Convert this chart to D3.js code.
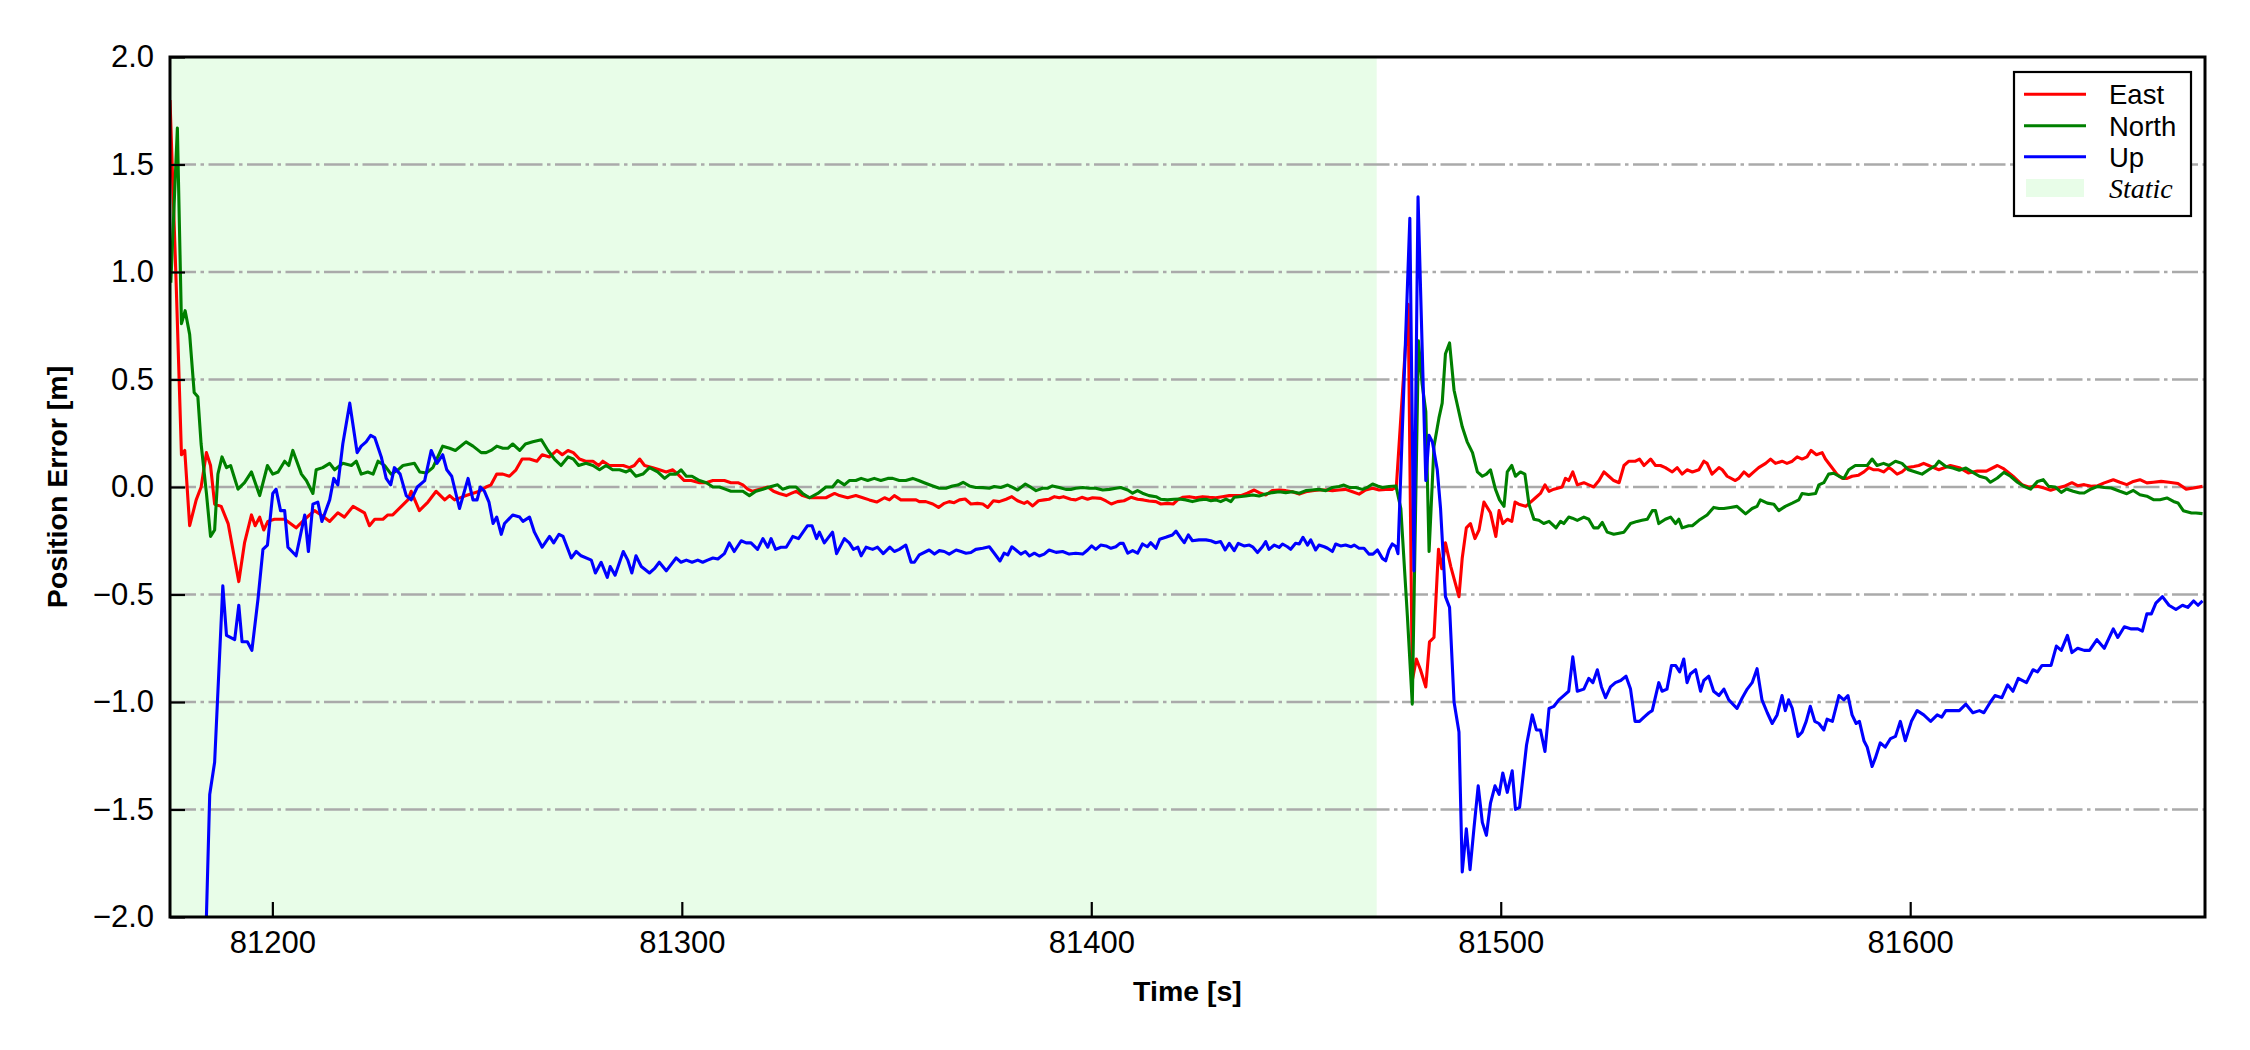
<!DOCTYPE html>
<html><head><meta charset="utf-8">
<script src="https://cdn.jsdelivr.net/npm/d3@7"></script>
<style>
html,body{margin:0;padding:0;background:#fff;}
svg{display:block;}
</style></head>
<body>
<svg id="chart" width="2250" height="1050"></svg>
<script>
// ---------- data ----------
const xTicks = [81200, 81300, 81400, 81500, 81600];
const yTicks = [-2.0, -1.5, -1.0, -0.5, 0.0, 0.5, 1.0, 1.5, 2.0];
const gridLevels = [-1.5, -1.0, -0.5, 0.0, 0.5, 1.0, 1.5];
const timeRange = [81175, 81672];
const staticRange = [81175, 81469.7];
const seriesNames = ["East", "North", "Up"];
const staticLabel = "Static";

const east = [[81175.0,1.80],[81176.5,0.95],[81177.8,0.15],[81178.6,0.17],[81179.8,-0.18],[81181.4,-0.06],[81182.6,0.0],[81183.9,0.16],[81184.9,0.10],[81185.9,-0.08],[81187.5,-0.09],[81189.2,-0.17],[81191.8,-0.44],[81193.2,-0.26],[81194.9,-0.13],[81195.8,-0.18],[81196.9,-0.14],[81197.9,-0.20],[81198.9,-0.16],[81200.5,-0.15],[81203.0,-0.15],[81205.8,-0.19],[81207.9,-0.15],[81210.3,-0.11],[81211.9,-0.13],[81214.0,-0.16],[81216.0,-0.12],[81217.6,-0.14],[81219.7,-0.09],[81222.5,-0.12],[81223.7,-0.18],[81225.0,-0.15],[81227.0,-0.15],[81228.2,-0.13],[81229.4,-0.13],[81231.5,-0.09],[81233.1,-0.06],[81233.9,-0.02],[81235.9,-0.11],
[81238.0,-0.07],[81240.0,-0.02],[81242.1,-0.06],[81243.3,-0.04],[81244.5,-0.06],[81247.3,-0.04],[81250.6,-0.02],[81252.2,0.0],[81253.4,0.01],[81254.8,0.06],[81256.3,0.06],[81257.9,0.05],[81259.5,0.08],[81261.0,0.13],[81262.8,0.13],[81264.6,0.12],[81265.9,0.15],[81267.7,0.14],[81269.5,0.17],[81270.8,0.15],[81272.2,0.17],[81273.5,0.16],[81275.0,0.13],[81276.5,0.12],[81278.3,0.12],[81279.7,0.10],[81280.7,0.12],[81282.3,0.10],[81284.0,0.10],[81285.7,0.10],[81287.2,0.09],[81288.4,0.10],[81289.7,0.13],[81290.9,0.10],[81292.9,0.09],[81294.5,0.08],[81296.2,0.07],[81297.8,0.08],[81299.0,0.06],[81300.6,0.03],[81302.3,0.03],[81304.3,0.02],[81305.9,0.02],[81307.6,0.03],[81309.2,0.03],[81310.4,0.03],[81312.0,0.02],[81313.7,0.02],[81314.9,0.01],[81316.1,-0.01],[81317.3,-0.02],[81319.0,-0.01],[81321.0,0.0],[81322.4,-0.02],[81323.8,-0.03],[81325.5,-0.04],[81326.7,-0.03],[81327.9,-0.02],[81329.5,-0.04],[81331.2,-0.05],[81332.8,-0.05],[81335.2,-0.05],[81337.3,-0.03],[81338.5,-0.04],[81340.5,-0.05],[81342.5,-0.04],[81344.2,-0.05],[81345.8,-0.06],[81347.6,-0.07],[81349.5,-0.05],[81350.7,-0.06],[81351.9,-0.04],[81353.5,-0.06],[81355.2,-0.06],[81357.2,-0.06],
[81358.0,-0.068],[81359.6,-0.068],[81361.3,-0.079],[81362.7,-0.095],[81364.1,-0.076],[81365.3,-0.068],[81366.5,-0.073],[81367.8,-0.060],[81369.2,-0.056],[81370.6,-0.079],[81372.2,-0.076],[81373.5,-0.079],[81374.7,-0.095],[81376.1,-0.064],[81377.5,-0.068],[81379.2,-0.057],[81380.6,-0.045],[81382.0,-0.064],[81383.6,-0.076],[81384.4,-0.068],[81385.7,-0.088],[81387.1,-0.064],[81388.5,-0.060],[81389.7,-0.057],[81391.0,-0.045],[81392.2,-0.050],[81393.2,-0.045],[81395.0,-0.057],[81396.2,-0.060],[81397.7,-0.048],[81399.1,-0.057],[81400.3,-0.050],[81402.3,-0.053],[81403.6,-0.065],[81404.9,-0.079],[81406.4,-0.068],[81408.0,-0.064],[81409.7,-0.048],[81411.3,-0.057],[81412.7,-0.060],[81414.1,-0.065],[81415.8,-0.068],[81417.0,-0.079],[81418.6,-0.076],[81420.0,-0.079],[81421.1,-0.060],[81422.3,-0.048],[81423.9,-0.045],[81425.5,-0.050],[81427.2,-0.045],[81428.8,-0.048],[81430.4,-0.050],[81432.0,-0.045],[81433.7,-0.040],[81435.3,-0.040],[81436.5,-0.040],[81438.1,-0.029],[81439.8,-0.014],[81441.0,-0.026],[81442.6,-0.037],[81444.2,-0.017],[81445.9,-0.014],[81447.5,-0.017],[81449.1,-0.022],[81450.8,-0.033],[81452.4,-0.022],[81454.0,-0.017],[81455.6,-0.014],[81457.3,-0.014],[81458.9,-0.017],[81460.5,-0.014],[81462.1,-0.011],[81463.8,-0.022],[81465.4,-0.033],[81467.0,-0.014],[81468.7,-0.006],[81470.3,-0.014],[81471.9,-0.011],[81473.5,-0.011],[81474.5,0.0],
[81477.4,0.85],[81478.4,-0.90],[81479.4,-0.80],[81480.4,-0.85],[81481.7,-0.93],[81482.6,-0.72],[81483.7,-0.70],[81484.8,-0.29],[81485.6,-0.38],[81486.5,-0.26],[81487.8,-0.37],[81489.8,-0.51],[81490.6,-0.33],[81491.6,-0.19],[81492.6,-0.17],[81493.7,-0.24],[81494.7,-0.20],[81495.9,-0.07],[81497.5,-0.12],[81498.8,-0.23],[81499.6,-0.11],[81500.5,-0.17],[81501.6,-0.15],[81502.7,-0.16],[81503.5,-0.07],
[81504.4,-0.08],[81506.1,-0.09],[81507.3,-0.07],[81508.5,-0.05],[81509.7,-0.03],[81510.8,0.01],[81511.8,-0.02],[81513.0,-0.01],[81515.0,0.0],[81515.8,0.04],[81516.6,0.03],[81517.6,0.07],[81518.7,0.01],[81520.3,0.02],[81521.5,0.01],[81522.7,0.0],[81524.0,0.03],[81525.2,0.07],[81526.4,0.05],[81527.6,0.03],[81528.9,0.02],[81530.1,0.10],[81531.3,0.12],[81532.9,0.12],[81533.9,0.13],[81535.0,0.10],[81536.6,0.13],[81537.8,0.10],[81539.0,0.10],[81540.2,0.09],[81541.9,0.07],[81543.1,0.09],[81544.3,0.06],[81545.5,0.08],[81546.8,0.07],[81548.4,0.08],[81549.6,0.12],[81550.4,0.11],[81551.6,0.06],[81553.3,0.09],[81554.1,0.08],[81555.3,0.05],[81557.3,0.03],[81558.1,0.04],[81559.4,0.07],[81560.6,0.05],[81561.8,0.07],[81563.0,0.09],[81564.7,0.11],[81565.9,0.13],[81567.1,0.11],[81568.7,0.12],[81569.9,0.11],[81571.2,0.12],[81572.4,0.14],[81573.6,0.13],[81574.8,0.14],[81575.8,0.17],[81577.1,0.15],[81578.5,0.16],[81579.3,0.13],[81580.5,0.10],[81582.1,0.06],[81583.4,0.04],[81584.6,0.04],[81585.8,0.05],[81587.4,0.055],[81588.7,0.07],[81589.9,0.09],[81591.1,0.08],[81592.3,0.08],[81593.5,0.07],[81594.8,0.09],[81595.6,0.08],[81596.8,0.06],[81598.0,0.07],[81599.2,0.09],[81600.9,0.095],[81602.1,0.10],[81603.3,0.11],[81604.5,0.10],[81605.7,0.09],[81607.0,0.08],
[81609.8,0.10],[81612.0,0.09],[81614.2,0.065],[81616.4,0.074],[81618.6,0.074],[81621.3,0.10],[81622.9,0.084],[81625.1,0.05],[81627.3,0.011],[81628.9,0.0],[81631.1,0.003],[81632.7,-0.005],[81634.3,-0.015],[81636.0,-0.005],[81637.6,0.003],[81639.5,0.02],[81640.9,0.006],[81642.5,0.011],[81644.2,0.003],[81645.8,0.006],[81647.4,0.019],[81649.6,0.034],[81651.2,0.022],[81652.9,0.011],[81654.5,0.026],[81656.1,0.034],[81657.8,0.019],[81659.4,0.022],[81661.3,0.026],[81663.2,0.022],[81665.4,0.016],[81667.4,-0.01],[81669.2,-0.005],[81671.4,0.003]];

const north = [[81175.2,0.95],[81176.8,1.67],[81177.8,0.76],[81178.7,0.82],[81179.8,0.71],[81180.9,0.44],[81181.8,0.42],[81182.6,0.20],[81183.9,-0.03],[81184.9,-0.23],[81185.9,-0.20],[81186.7,0.06],[81187.7,0.14],[81188.8,0.09],[81189.8,0.10],[81191.6,-0.01],[81193.2,0.02],[81194.9,0.07],[81196.9,-0.04],[81198.8,0.10],[81200.1,0.06],[81201.4,0.07],[81203.0,0.12],[81204.0,0.10],[81205.0,0.17],[81207.1,0.06],[81208.3,0.03],[81209.9,-0.03],[81210.7,0.08],[81212.3,0.09],[81214.0,0.11],[81215.2,0.08],[81217.2,0.11],[81219.3,0.10],[81220.5,0.12],[81221.7,0.06],[81223.3,0.07],[81224.6,0.06],[81225.8,0.12],[81227.4,0.10],[81229.0,0.06],[81230.7,0.08],[81231.9,0.10],[81234.7,0.11],[81236.0,0.07],
[81237.6,0.065],[81239.2,0.09],[81241.6,0.19],[81243.3,0.18],[81244.7,0.17],[81247.3,0.21],[81249.0,0.19],[81251.0,0.16],[81252.2,0.16],[81253.4,0.17],[81254.8,0.19],[81256.3,0.18],[81257.5,0.18],[81258.7,0.20],[81260.4,0.17],[81261.8,0.20],[81263.6,0.21],[81265.7,0.22],[81267.3,0.17],[81268.9,0.13],[81270.5,0.10],[81272.2,0.14],[81273.5,0.13],[81274.8,0.10],[81276.6,0.11],[81278.3,0.10],[81279.9,0.08],[81281.5,0.10],[81283.1,0.08],[81284.8,0.08],[81286.4,0.07],[81287.4,0.08],[81288.8,0.05],[81290.5,0.06],[81292.1,0.09],[81294.1,0.07],[81295.8,0.04],[81297.1,0.06],[81298.6,0.06],[81299.8,0.08],[81301.1,0.05],[81302.5,0.05],[81304.3,0.03],[81306.0,0.02],[81307.6,0.0],[81309.2,0.0],[81310.6,-0.01],[81312.0,-0.02],[81313.3,-0.02],[81314.9,-0.02],[81316.5,-0.04],[81318.1,-0.02],[81319.8,-0.01],[81321.4,0.0],[81323.4,0.01],[81324.6,-0.01],[81326.3,0.0],[81327.9,0.0],[81329.5,-0.03],[81331.2,-0.05],[81333.2,-0.03],[81335.2,0.0],[81336.8,0.0],[81338.1,0.03],[81339.7,0.01],[81340.9,0.03],[81342.5,0.03],[81343.8,0.04],[81345.4,0.03],[81347.0,0.04],[81348.6,0.03],[81350.3,0.04],[81351.5,0.04],[81353.1,0.03],[81354.7,0.03],[81356.4,0.04],
[81358.0,0.029],[81359.2,0.020],[81361.3,0.005],[81362.9,-0.006],[81364.5,-0.006],[81366.1,0.005],[81367.4,0.009],[81368.7,0.022],[81370.2,0.005],[81371.8,-0.002],[81373.5,-0.003],[81375.1,-0.006],[81376.3,0.002],[81377.9,-0.002],[81379.6,0.009],[81380.8,-0.002],[81382.0,-0.014],[81383.9,0.014],[81385.3,-0.002],[81386.5,-0.017],[81388.1,-0.006],[81389.3,-0.006],[81390.5,0.005],[81392.2,-0.002],[81393.8,-0.011],[81395.0,-0.011],[81396.2,-0.006],[81397.9,-0.002],[81399.5,-0.006],[81401.1,-0.006],[81402.8,-0.014],[81404.4,-0.011],[81406.0,-0.006],[81407.2,-0.002],[81408.9,-0.014],[81410.1,-0.029],[81411.3,-0.017],[81412.5,-0.029],[81414.1,-0.040],[81415.8,-0.045],[81417.0,-0.057],[81418.6,-0.060],[81420.2,-0.057],[81421.5,-0.056],[81423.1,-0.060],[81424.7,-0.068],[81426.3,-0.060],[81428.0,-0.057],[81429.2,-0.064],[81430.4,-0.060],[81431.6,-0.068],[81432.9,-0.056],[81434.1,-0.068],[81434.9,-0.048],[81436.1,-0.045],[81437.7,-0.042],[81439.4,-0.037],[81441.0,-0.042],[81442.6,-0.033],[81444.2,-0.026],[81445.9,-0.022],[81447.5,-0.026],[81449.1,-0.022],[81450.8,-0.029],[81452.4,-0.017],[81454.0,-0.014],[81455.6,-0.011],[81457.3,-0.017],[81458.9,-0.002],[81460.5,0.002],[81461.7,0.009],[81463.0,-0.002],[81464.6,-0.002],[81466.2,-0.011],[81467.4,-0.002],[81468.7,0.014],[81469.9,0.005],[81471.1,-0.002],[81472.7,0.002],[81474.4,0.005],
[81475.6,-0.10],[81477.2,-0.60],[81478.4,-1.01],[81479.9,0.68],[81480.8,0.48],[81481.7,0.35],[81482.5,-0.30],[81483.7,0.19],[81484.9,0.32],[81485.7,0.39],[81486.5,0.62],[81487.5,0.67],[81488.6,0.45],[81490.6,0.28],[81491.8,0.21],[81493.1,0.16],[81494.3,0.07],[81495.5,0.05],[81496.5,0.06],[81497.5,0.08],[81498.7,-0.01],[81499.7,-0.06],[81500.8,-0.09],[81501.6,0.07],[81502.7,0.10],[81503.6,0.05],[81504.8,0.07],[81505.9,0.06],
[81506.9,-0.08],[81508.1,-0.15],[81509.3,-0.155],[81510.5,-0.17],[81511.8,-0.16],[81513.5,-0.19],[81514.6,-0.16],[81515.4,-0.17],[81516.6,-0.14],[81517.5,-0.145],[81518.7,-0.155],[81520.3,-0.14],[81521.5,-0.15],[81522.7,-0.19],[81523.8,-0.19],[81524.8,-0.165],[81526.0,-0.21],[81527.6,-0.22],[81528.9,-0.215],[81530.1,-0.21],[81531.7,-0.17],[81533.3,-0.16],[81534.5,-0.155],[81535.8,-0.15],[81537.0,-0.11],[81537.8,-0.11],[81538.6,-0.17],[81540.2,-0.15],[81541.5,-0.14],[81542.7,-0.17],[81543.5,-0.15],[81544.3,-0.19],[81545.9,-0.18],[81546.8,-0.18],[81548.4,-0.155],[81550.4,-0.13],[81552.0,-0.095],[81553.3,-0.10],[81554.5,-0.10],[81556.1,-0.095],[81557.7,-0.09],[81559.8,-0.125],[81561.4,-0.10],[81562.6,-0.09],[81563.4,-0.06],[81565.1,-0.075],[81566.7,-0.08],[81567.9,-0.11],[81569.5,-0.09],[81571.2,-0.075],[81572.8,-0.06],[81573.6,-0.03],[81575.2,-0.035],[81576.9,-0.03],[81577.7,0.01],[81578.9,0.02],[81580.1,0.06],[81581.3,0.064],[81582.6,0.05],[81583.8,0.04],[81585.0,0.08],[81586.6,0.10],[81587.8,0.10],[81589.5,0.10],[81590.7,0.13],[81591.9,0.10],[81593.5,0.11],[81594.8,0.10],[81596.4,0.12],[81598.0,0.11],[81599.6,0.08],[81601.3,0.07],[81602.9,0.06],[81604.5,0.08],[81606.2,0.10],[81607.0,0.12],
[81608.7,0.095],[81610.4,0.088],[81612.0,0.078],[81613.6,0.088],[81615.3,0.068],[81616.9,0.05],[81618.5,0.042],[81619.6,0.022],[81621.3,0.042],[81622.9,0.068],[81624.5,0.05],[81626.2,0.022],[81627.8,0.003],[81629.4,-0.01],[81631.1,0.026],[81632.5,0.034],[81633.8,0.003],[81635.4,0.0],[81636.9,-0.025],[81638.2,-0.009],[81639.8,-0.02],[81641.4,-0.028],[81642.5,-0.028],[81644.2,-0.009],[81645.8,0.003],[81647.4,-0.002],[81649.1,-0.005],[81651.2,-0.02],[81652.9,-0.031],[81654.5,-0.016],[81656.1,-0.036],[81657.8,-0.043],[81659.4,-0.059],[81661.0,-0.059],[81662.7,-0.051],[81664.3,-0.067],[81665.4,-0.074],[81666.7,-0.11],[81668.7,-0.121],[81669.8,-0.121],[81671.4,-0.124]];

const up = [[81175.0,-4.0],[81182.9,-2.7],[81184.7,-1.43],[81185.9,-1.28],[81187.9,-0.46],[81188.8,-0.69],[81190.8,-0.71],[81191.8,-0.55],[81192.6,-0.72],[81193.9,-0.72],[81195.0,-0.76],[81196.5,-0.52],[81197.7,-0.29],[81198.8,-0.27],[81200.1,-0.03],[81200.9,-0.01],[81202.0,-0.11],[81203.0,-0.11],[81203.8,-0.28],[81205.8,-0.32],[81207.9,-0.13],[81208.8,-0.30],[81209.9,-0.08],[81211.1,-0.07],[81212.1,-0.16],[81214.0,-0.06],[81215.0,0.04],[81216.0,0.01],[81217.2,0.20],[81218.9,0.39],[81220.7,0.16],[81221.7,0.19],[81222.9,0.21],[81224.0,0.24],[81225.0,0.23],[81226.6,0.14],[81227.8,0.04],[81228.9,0.01],[81229.8,0.09],[81231.2,0.06],[81232.7,-0.04],[81233.9,-0.06],[81235.4,0.0],
[81237.2,0.03],[81238.8,0.17],[81240.2,0.11],[81241.6,0.15],[81242.6,0.08],[81243.8,0.05],[81245.7,-0.10],[81247.8,0.04],[81249.0,-0.06],[81250.0,-0.06],[81250.8,0.0],[81251.8,-0.02],[81252.9,-0.07],[81253.9,-0.17],[81254.8,-0.14],[81255.9,-0.22],[81256.7,-0.17],[81258.7,-0.13],[81260.4,-0.14],[81261.2,-0.16],[81262.8,-0.14],[81264.0,-0.21],[81265.9,-0.28],[81267.7,-0.23],[81268.7,-0.26],[81270.0,-0.22],[81271.0,-0.23],[81273.0,-0.33],[81274.2,-0.30],[81275.4,-0.32],[81277.9,-0.34],[81278.9,-0.40],[81280.3,-0.35],[81281.8,-0.42],[81282.5,-0.37],[81283.7,-0.41],[81285.7,-0.30],[81286.8,-0.34],[81287.8,-0.40],[81288.8,-0.32],[81290.1,-0.37],[81292.1,-0.40],[81293.3,-0.38],[81294.5,-0.35],[81296.2,-0.39],[81298.6,-0.33],[81299.8,-0.35],[81301.1,-0.34],[81302.5,-0.35],[81303.9,-0.34],[81305.1,-0.35],[81306.3,-0.34],[81307.6,-0.33],[81308.8,-0.335],[81310.4,-0.31],[81311.6,-0.26],[81312.8,-0.30],[81314.5,-0.25],[81315.7,-0.26],[81316.9,-0.26],[81318.5,-0.29],[81319.8,-0.24],[81321.0,-0.28],[81321.8,-0.24],[81322.9,-0.29],[81324.2,-0.28],[81325.5,-0.28],[81327.1,-0.23],[81328.5,-0.24],[81330.7,-0.18],[81331.8,-0.18],[81332.9,-0.24],[81333.6,-0.21],[81334.8,-0.26],[81336.8,-0.21],[81337.8,-0.31],[81339.7,-0.24],[81340.9,-0.26],[81341.9,-0.29],[81343.0,-0.28],[81343.8,-0.32],[81345.0,-0.28],[81346.6,-0.29],[81347.8,-0.28],[81349.2,-0.31],[81350.8,-0.28],[81351.9,-0.30],[81353.1,-0.29],[81354.7,-0.27],[81356.0,-0.35],[81356.8,-0.35],
[81358.0,-0.316],[81360.4,-0.293],[81361.7,-0.312],[81362.9,-0.296],[81364.1,-0.300],[81365.3,-0.312],[81367.0,-0.293],[81368.2,-0.300],[81369.4,-0.308],[81370.6,-0.305],[81371.8,-0.290],[81373.5,-0.285],[81375.1,-0.278],[81376.3,-0.308],[81377.7,-0.344],[81378.7,-0.308],[81379.6,-0.316],[81380.6,-0.278],[81381.6,-0.293],[81382.8,-0.312],[81383.9,-0.300],[81384.9,-0.321],[81386.1,-0.308],[81387.3,-0.321],[81388.5,-0.312],[81389.7,-0.293],[81391.4,-0.304],[81393.0,-0.300],[81394.6,-0.312],[81396.2,-0.308],[81397.9,-0.312],[81399.1,-0.293],[81400.1,-0.274],[81401.1,-0.290],[81402.3,-0.270],[81403.6,-0.274],[81404.8,-0.285],[81406.0,-0.278],[81407.0,-0.262],[81407.8,-0.262],[81408.9,-0.308],[81410.1,-0.296],[81411.3,-0.308],[81412.5,-0.265],[81413.7,-0.278],[81414.5,-0.259],[81415.8,-0.285],[81416.7,-0.243],[81418.2,-0.234],[81419.8,-0.223],[81420.7,-0.205],[81421.9,-0.239],[81422.7,-0.259],[81423.7,-0.223],[81424.7,-0.250],[81426.3,-0.246],[81428.0,-0.246],[81429.2,-0.250],[81430.4,-0.259],[81431.6,-0.254],[81432.7,-0.293],[81433.7,-0.262],[81434.9,-0.296],[81435.9,-0.262],[81437.3,-0.274],[81438.6,-0.270],[81439.4,-0.278],[81440.6,-0.305],[81441.8,-0.278],[81442.6,-0.254],[81443.4,-0.290],[81444.7,-0.270],[81445.9,-0.281],[81446.7,-0.265],[81447.9,-0.278],[81448.7,-0.290],[81449.9,-0.262],[81450.8,-0.265],[81451.7,-0.234],[81452.8,-0.270],[81453.6,-0.246],[81454.8,-0.293],[81455.6,-0.270],[81456.9,-0.278],[81457.7,-0.285],[81458.9,-0.300],[81459.7,-0.265],[81460.9,-0.274],[81462.1,-0.270],[81463.4,-0.278],[81464.2,-0.270],[81465.4,-0.285],[81466.6,-0.285],[81467.8,-0.312],[81468.8,-0.312],[81469.9,-0.293],[81471.1,-0.332],[81471.9,-0.343],[81472.7,-0.293],[81473.5,-0.265],[81474.4,-0.277],[81474.9,-0.31],
[81477.8,1.25],[81478.8,-0.39],[81479.8,1.35],[81481.7,0.03],[81482.5,0.24],[81483.3,0.21],[81484.5,0.08],[81485.3,-0.10],[81486.5,-0.51],[81487.5,-0.56],[81488.6,-1.00],[81489.8,-1.14],[81490.6,-1.79],[81491.6,-1.59],[81492.5,-1.78],[81493.5,-1.58],[81494.5,-1.39],[81495.5,-1.56],[81496.5,-1.62],[81497.5,-1.47],[81498.6,-1.39],[81499.6,-1.43],[81500.5,-1.33],[81501.6,-1.42],[81502.8,-1.32],[81503.6,-1.50],[81504.6,-1.49],[81506.3,-1.20],
[81507.7,-1.06],[81508.7,-1.13],[81509.7,-1.13],[81510.8,-1.23],[81511.8,-1.03],[81513.0,-1.02],[81514.2,-0.99],[81515.4,-0.97],[81516.6,-0.95],[81517.6,-0.79],[81518.7,-0.95],[81520.3,-0.94],[81521.5,-0.89],[81522.5,-0.91],[81523.6,-0.85],[81524.6,-0.93],[81525.6,-0.98],[81526.8,-0.93],[81528.0,-0.91],[81529.3,-0.90],[81530.6,-0.88],[81531.7,-0.94],[81532.8,-1.09],[81533.9,-1.09],[81535.0,-1.07],[81536.2,-1.05],[81537.0,-1.04],[81538.6,-0.91],[81539.4,-0.95],[81540.6,-0.94],[81541.7,-0.83],[81542.7,-0.83],[81543.7,-0.86],[81544.7,-0.80],[81545.5,-0.91],[81546.3,-0.87],[81547.6,-0.85],[81548.8,-0.95],[81549.6,-0.90],[81550.8,-0.88],[81552.0,-0.95],[81553.3,-0.97],[81554.5,-0.94],[81555.7,-0.99],[81557.7,-1.03],[81559.0,-0.98],[81560.2,-0.94],[81561.4,-0.91],[81562.6,-0.845],[81563.8,-0.99],[81565.1,-1.05],[81566.3,-1.10],[81567.5,-1.06],[81568.7,-0.97],[81569.5,-1.04],[81570.3,-0.99],[81571.2,-1.03],[81572.6,-1.16],[81573.6,-1.14],[81574.6,-1.09],[81575.6,-1.02],[81576.7,-1.09],[81577.7,-1.10],[81578.9,-1.13],[81579.7,-1.08],[81581.0,-1.09],[81582.6,-0.97],[81583.8,-0.99],[81584.8,-0.97],[81585.8,-1.06],[81586.8,-1.10],[81587.6,-1.09],[81588.7,-1.18],[81589.5,-1.21],[81590.7,-1.30],[81591.5,-1.26],[81592.7,-1.19],[81593.9,-1.21],[81595.2,-1.17],[81596.4,-1.16],[81597.6,-1.09],[81598.8,-1.18],[81600.3,-1.09],[81601.7,-1.04],[81603.3,-1.06],[81605.0,-1.09],[81606.6,-1.06],
[81607.7,-1.07],[81608.7,-1.04],[81610.4,-1.04],[81612.0,-1.04],[81613.6,-1.01],[81615.3,-1.05],[81616.9,-1.04],[81618.0,-1.05],[81619.6,-1.00],[81620.7,-0.97],[81622.4,-0.98],[81623.8,-0.92],[81625.1,-0.95],[81626.4,-0.89],[81628.4,-0.91],[81630.0,-0.85],[81631.1,-0.86],[81632.2,-0.83],[81634.4,-0.83],[81635.7,-0.74],[81636.9,-0.76],[81638.4,-0.69],[81639.5,-0.77],[81640.9,-0.75],[81642.5,-0.76],[81643.8,-0.76],[81645.6,-0.71],[81647.4,-0.75],[81649.6,-0.66],[81650.7,-0.70],[81652.3,-0.65],[81654.0,-0.66],[81655.6,-0.66],[81656.7,-0.67],[81657.8,-0.59],[81658.9,-0.59],[81660.0,-0.54],[81661.6,-0.51],[81663.2,-0.55],[81664.9,-0.57],[81666.5,-0.55],[81667.8,-0.56],[81669.2,-0.53],[81670.3,-0.55],[81671.4,-0.53]];

const seriesData = [east, north, up];
const seriesColors = ["#ff0000", "#008000", "#0000ff"];

// ---------- layout ----------
const W = 2250, H = 1050;
const M = {left: 170, right: 45, top: 57, bottom: 133};
const pw = W - M.left - M.right, ph = H - M.top - M.bottom;
const FONT = "'Liberation Sans', Arial, Helvetica, sans-serif";

const svg = d3.select("#chart");
const x = d3.scaleLinear().domain(timeRange).range([0, pw]);
const y = d3.scaleLinear().domain([-2, 2]).range([ph, 0]);

const g = svg.append("g").attr("transform", `translate(${M.left},${M.top})`);

svg.append("defs").append("clipPath").attr("id", "clip")
  .append("rect").attr("x", 0).attr("y", 0).attr("width", pw).attr("height", ph);

// static shading
g.append("rect")
  .attr("x", x(staticRange[0])).attr("y", 0)
  .attr("width", x(staticRange[1]) - x(staticRange[0])).attr("height", ph)
  .attr("fill", "#e8fde8");

// grid
g.append("g").selectAll("line").data(gridLevels).join("line")
  .attr("x1", 0).attr("x2", pw)
  .attr("y1", d => y(d)).attr("y2", d => y(d))
  .attr("stroke", "#aaaaaa").attr("stroke-width", 2.6)
  .attr("stroke-dasharray", "26,4.5,3.5,4.5");

// lines
const line = d3.line().x(d => x(d[0])).y(d => y(d[1]));
const lg = g.append("g").attr("clip-path", "url(#clip)");
seriesData.forEach((s, i) => {
  lg.append("path").datum(s).attr("d", line)
    .attr("fill", "none").attr("stroke", seriesColors[i])
    .attr("stroke-width", 3.1).attr("stroke-linejoin", "round");
});

// axes
const xAxis = d3.axisBottom(x).tickValues(xTicks).tickFormat(d3.format("d"))
  .tickSizeInner(-15).tickSizeOuter(0).tickPadding(14);
const yAxis = d3.axisLeft(y).tickValues(yTicks).tickFormat(d3.format(".1f"))
  .tickSizeInner(-15).tickSizeOuter(0).tickPadding(16);

const gx = g.append("g").attr("transform", `translate(0,${ph})`).call(xAxis);
const gy = g.append("g").call(yAxis);
[gx, gy].forEach(a => {
  a.select(".domain").remove();
  a.selectAll(".tick line").attr("stroke", "#000").attr("stroke-width", 2.2);
  a.selectAll(".tick text").attr("fill", "#000")
    .style("font-family", FONT).style("font-size", "31px");
});

// frame
g.append("rect").attr("x", 0).attr("y", 0).attr("width", pw).attr("height", ph)
  .attr("fill", "none").attr("stroke", "#000").attr("stroke-width", 3);

// axis labels
svg.append("text").attr("x", M.left + pw / 2).attr("y", 1001)
  .attr("text-anchor", "middle").style("font-family", FONT)
  .style("font-size", "28.5px").style("font-weight", "bold").text("Time [s]");
svg.append("text").attr("transform", `translate(67,${M.top + ph / 2}) rotate(-90)`)
  .attr("text-anchor", "middle").style("font-family", FONT)
  .style("font-size", "28.5px").style("font-weight", "bold").text("Position Error [m]");

// legend
const leg = svg.append("g").attr("transform", "translate(2014,72)");
leg.append("rect").attr("x", 0).attr("y", 0).attr("width", 177).attr("height", 144)
  .attr("fill", "#fff").attr("stroke", "#000").attr("stroke-width", 2.2);
const rowY = [22.3, 53.7, 84.7, 116];
seriesNames.forEach((n, i) => {
  leg.append("line").attr("x1", 10).attr("x2", 72).attr("y1", rowY[i]).attr("y2", rowY[i])
    .attr("stroke", seriesColors[i]).attr("stroke-width", 3.1);
  leg.append("text").attr("x", 95).attr("y", rowY[i]).attr("dy", "0.36em")
    .style("font-family", FONT).style("font-size", "27.5px").text(n);
});
leg.append("rect").attr("x", 12).attr("y", rowY[3] - 9).attr("width", 58).attr("height", 18)
  .attr("fill", "#e8fde8");
leg.append("text").attr("x", 95).attr("y", rowY[3]).attr("dy", "0.36em")
  .style("font-family", "'Liberation Serif', 'Times New Roman', serif")
  .style("font-style", "italic").style("font-size", "28px").text(staticLabel);
</script>
</body></html>
